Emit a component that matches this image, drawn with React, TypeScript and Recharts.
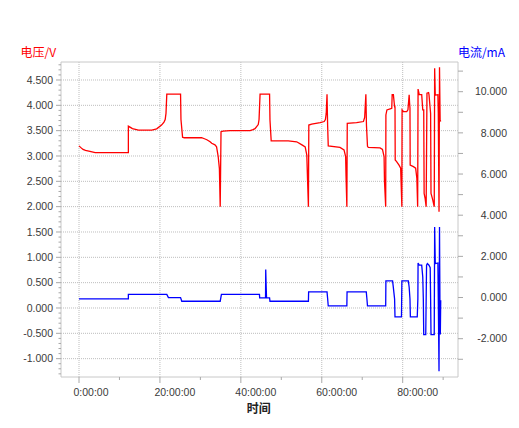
import React from 'react';
import { LineChart, Line, XAxis, YAxis, ReferenceLine } from 'recharts';

// time (h), voltage (V)
const voltagePoints: [number, number][] = [
  [0, 3.2], [0.4, 3.17], [1.0, 3.13], [1.6, 3.11], [2.7, 3.09], [4.0, 3.065], [12.2, 3.065],
  [12.2, 3.59], [12.6, 3.57], [13.2, 3.54], [14.7, 3.51], [18.0, 3.51], [19.2, 3.535], [20.4, 3.61], [21.0, 3.67], [21.3, 3.72], [21.5, 3.84], [21.7, 4.22], [25.1, 4.22],
  [25.2, 3.72], [25.6, 3.37], [26.0, 3.36], [30.3, 3.36], [31.0, 3.34], [31.6, 3.32], [32.4, 3.28], [32.8, 3.25], [33.6, 3.22], [34.0, 3.18], [34.4, 2.99], [34.7, 2.75], [34.9, 2.0],
  [35.1, 3.48], [35.6, 3.49], [37.3, 3.5], [42.3, 3.5], [43.0, 3.52], [43.5, 3.54], [44.0, 3.59], [44.3, 3.62], [44.5, 3.72], [44.75, 4.22], [47.1, 4.22],
  [47.2, 3.71], [47.5, 3.3], [51.7, 3.3], [53.8, 3.28], [55.1, 3.22], [55.9, 3.18], [56.3, 3.02], [56.5, 2.5], [56.7, 2.0],
  [56.8, 3.61], [57.5, 3.63], [59.6, 3.66], [60.6, 3.68], [60.9, 3.72], [61.1, 3.84], [61.3, 4.22], [61.45, 3.6], [61.6, 3.2], [64.5, 3.17], [65.5, 3.12], [65.9, 2.99], [66.0, 2.6], [66.2, 2.0],
  [66.3, 3.645], [68.6, 3.66], [70.3, 3.68], [70.6, 3.76], [70.9, 4.22], [71.05, 3.6], [71.3, 3.19], [71.5, 3.17], [74.4, 3.16], [75.0, 3.13], [75.4, 2.99], [75.5, 2.5], [75.8, 2.0],
  [75.85, 3.81], [76.1, 3.91], [76.9, 3.93], [77.3, 3.94], [77.4, 4.21], [77.7, 4.21], [78.0, 3.97], [78.1, 3.97], [78.15, 2.92], [78.5, 2.89], [79.1, 2.82], [79.5, 2.76], [79.6, 2.5], [79.8, 2.0],
  [79.85, 3.91], [80.2, 3.875], [81.0, 3.875], [81.3, 3.91], [81.6, 4.21], [81.7, 4.05], [81.8, 3.94], [81.85, 2.82], [82.65, 2.79], [83.2, 2.76], [83.5, 2.56], [83.7, 2.0],
  [83.8, 4.32], [84.1, 4.21], [84.7, 4.21], [84.96, 3.91], [85.2, 3.91], [85.3, 2.26], [85.55, 2.16], [85.8, 2.0],
  [86.0, 4.24], [86.4, 4.25], [86.5, 4.21], [86.9, 3.84], [87.0, 2.26], [87.35, 2.16], [87.8, 2.0],
  [87.9, 4.73], [88.05, 4.2], [88.7, 4.21], [88.8, 3.84], [88.98, 1.9], [89.1, 4.75], [89.25, 3.71], [89.4, 3.68],
];

// time (h), current (mA)
const currentPoints: [number, number][] = [
  [0, -0.07], [12.2, -0.07], [12.2, 0.15], [21.7, 0.15], [22.1, 0.0], [25.1, 0.0], [25.4, -0.18], [34.9, -0.18],
  [35.2, 0.15], [44.6, 0.15], [44.65, -0.02], [46.1, -0.02], [46.15, 1.36], [46.25, 0.6], [46.35, -0.02], [47.1, -0.02], [47.2, -0.18], [56.7, -0.18],
  [56.75, 0.27], [61.3, 0.27], [61.45, -0.05], [61.6, -0.41], [66.2, -0.41], [66.25, 0.27], [71.0, 0.27], [71.15, -0.05], [71.3, -0.41], [75.8, -0.41],
  [75.85, 0.81], [77.5, 0.81], [77.7, 0.47], [78.0, -0.07], [78.1, -0.94], [79.7, -0.94], [79.8, 0.81], [81.4, 0.81], [81.6, 0.5], [81.8, -0.07], [81.9, -0.94], [83.6, -0.94],
  [83.75, -0.07], [83.8, 1.68], [84.1, 1.57], [84.7, 1.57], [84.96, 1.0], [85.1, -0.07], [85.2, -1.8], [85.7, -1.8],
  [85.9, 1.57], [86.1, 1.65], [86.5, 1.57], [86.8, 1.45], [86.9, -0.07], [87.0, -1.8], [87.8, -1.8],
  [87.9, 3.43], [88.05, 1.65], [88.7, 1.68], [88.8, -0.07], [88.98, -3.58], [89.1, 3.43], [89.2, -0.13], [89.3, -1.8], [89.4, -0.13],
];

const xTicks = [0, 10, 20, 30, 40, 50, 60, 70, 80, 90];
const xMajorTicks = [0, 20, 40, 60, 80];
const xTickLabels = ['0:00:00', '20:00:00', '40:00:00', '60:00:00', '80:00:00'];
const leftMajorTicks = [-1, -0.5, 0, 0.5, 1, 1.5, 2, 2.5, 3, 3.5, 4, 4.5];
const leftTicks = Array.from({ length: 62 }, (_, i) => Math.round((-1.3 + i * 0.1) * 10) / 10);
const rightTicks = [-3, -2, -1, 0, 1, 2, 3, 4, 5, 6, 7, 8, 9, 10, 11];
const rightLabeledTicks = [-2, 0, 2, 4, 6, 8, 10];

const xDomain: [number, number] = [-4.449, 93.67];
const leftDomain: [number, number] = [-1.362, 4.855];
const rightDomain: [number, number] = [-3.861, 11.443];

const voltageData = voltagePoints.map(([h, v]) => ({ h, v }));
const currentData = currentPoints.map(([h, i]) => ({ h, i }));

const FONT = '"Liberation Sans", Arial, sans-serif';
const TICK_COLOR = '#a8a8a8';
const BORDER = '#c8c8c8';
const GRID = '#bdbdbd';
const LABEL_COLOR = '#3a3a3a';

const PLOT_LEFT = 61;
const PLOT_RIGHT = 458;
const PLOT_BOTTOM = 377;

const LeftTick = (props: any) => {
  const { y, payload } = props;
  const v = payload.value as number;
  const major = leftMajorTicks.some((t) => Math.abs(t - v) < 1e-6);
  return (
    <g>
      <line x1={major ? PLOT_LEFT - 5 : PLOT_LEFT - 2.5} x2={PLOT_LEFT} y1={y} y2={y} stroke={TICK_COLOR} />
      {major && (
        <text x={53} y={y} dy="0.36em" textAnchor="end" fontSize={10.5} fontFamily={FONT} fill={LABEL_COLOR}>
          {v.toFixed(3)}
        </text>
      )}
    </g>
  );
};

const RightTick = (props: any) => {
  const { y, payload } = props;
  const v = payload.value as number;
  const labeled = rightLabeledTicks.includes(v);
  return (
    <g>
      <line x1={PLOT_RIGHT} x2={PLOT_RIGHT + 5} y1={y} y2={y} stroke={TICK_COLOR} />
      {labeled && (
        <text x={507} y={y} dy="0.36em" textAnchor="end" fontSize={10.5} fontFamily={FONT} fill={LABEL_COLOR}>
          {v.toFixed(3)}
        </text>
      )}
    </g>
  );
};

const XTick = (props: any) => {
  const { x, payload } = props;
  const v = payload.value as number;
  const idx = xMajorTicks.indexOf(v);
  const major = idx >= 0;
  return (
    <g>
      <line x1={x} x2={x} y1={PLOT_BOTTOM} y2={PLOT_BOTTOM + (major ? 6 : 3)} stroke={TICK_COLOR} />
      {major && (
        <text x={x - 5.5} y={395.5} textAnchor="start" fontSize={10.5} fontFamily={FONT} fill={LABEL_COLOR}>
          {xTickLabels[idx]}
        </text>
      )}
    </g>
  );
};

export default function App() {
  return (
    <div style={{ position: 'absolute', left: 0, top: 0, width: 519, height: 428, background: '#fff' }}>
      <LineChart width={519} height={428} margin={{ top: 62, right: 0, bottom: 0, left: 0 }}>
        <XAxis
          dataKey="h"
          type="number"
          domain={xDomain}
          ticks={xTicks}
          interval={0}
          tick={XTick}
          tickLine={false}
          axisLine={{ stroke: BORDER }}
          height={51}
          allowDataOverflow
        />
        <YAxis
          yAxisId="left"
          orientation="left"
          width={61}
          domain={leftDomain}
          ticks={leftTicks}
          interval={0}
          tick={LeftTick}
          tickLine={false}
          axisLine={{ stroke: BORDER }}
          allowDataOverflow
        />
        <YAxis
          yAxisId="right"
          orientation="right"
          width={61}
          domain={rightDomain}
          ticks={rightTicks}
          interval={0}
          tick={RightTick}
          tickLine={false}
          axisLine={{ stroke: BORDER }}
          allowDataOverflow
        />
        {xMajorTicks.map((t) => (
          <ReferenceLine key={'gx' + t} x={t} yAxisId="left" stroke={GRID} strokeDasharray="1 1" />
        ))}
        {leftMajorTicks.map((t) => (
          <ReferenceLine key={'gy' + t} y={t} yAxisId="left" stroke={GRID} strokeDasharray="1 1" />
        ))}
        <ReferenceLine y={leftDomain[1]} yAxisId="left" stroke={BORDER} />
        <Line
          data={voltageData}
          dataKey="v"
          yAxisId="left"
          type="linear"
          stroke="#ff0000"
          strokeWidth={1.3}
          dot={false}
          activeDot={false}
          isAnimationActive={false}
        />
        <Line
          data={currentData}
          dataKey="i"
          yAxisId="right"
          type="linear"
          stroke="#0000ff"
          strokeWidth={1.3}
          dot={false}
          activeDot={false}
          isAnimationActive={false}
        />
      </LineChart>
      <svg width={519} height={428} style={{ position: 'absolute', left: 0, top: 0, pointerEvents: 'none' }}>
        <text x={20.5} y={57} fontSize={12} fontFamily='"Noto Sans CJK SC", sans-serif' fill="#ff0000">
          电压/V
        </text>
        <text x={505} y={57} textAnchor="end" fontSize={12} fontFamily='"Noto Sans CJK SC", sans-serif' fill="#0000ff">
          电流/mA
        </text>
        <text x={258.7} y={412.5} textAnchor="middle" fontSize={12} fontWeight="bold" fontFamily='"Noto Sans CJK SC", sans-serif' fill="#222">
          时间
        </text>
      </svg>
    </div>
  );
}
